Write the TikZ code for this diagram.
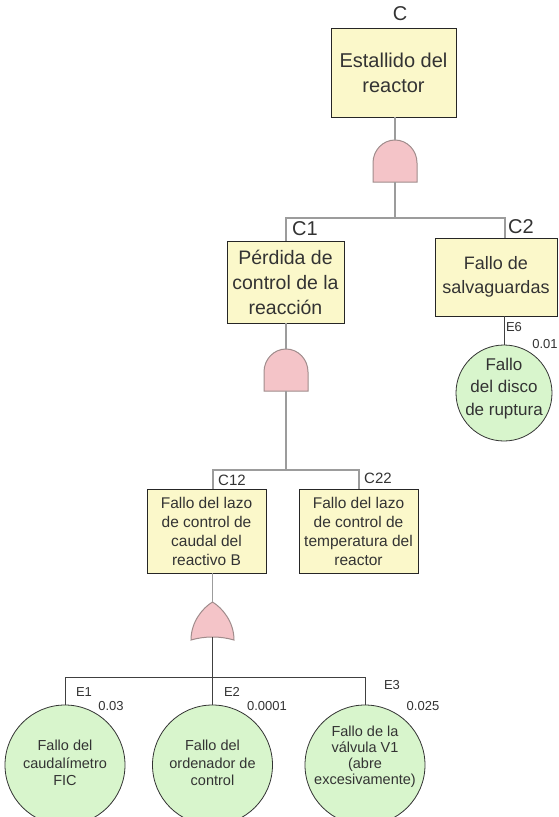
\documentclass[tikz,border=0pt]{standalone}
\usepackage{fontspec}
\setmainfont{Liberation Sans}
\definecolor{boxc}{HTML}{FBF8CA}
\definecolor{evc}{HTML}{D8F5CC}
\definecolor{gatec}{HTML}{F4C4C8}
\definecolor{gated}{HTML}{A08C8C}
\definecolor{connc}{HTML}{9C9C9C}
\definecolor{txtc}{HTML}{333333}
\newcommand\fsz[2]{\fontsize{#1}{#2}\selectfont}
\begin{document}
\begin{tikzpicture}[x=1pt,y=1pt,
  txt/.style={text=txtc, inner sep=0pt, align=center},
  lab/.style={text=txtc, inner sep=0pt},
  box/.style={draw=black!85, line width=0.8pt, fill=boxc, inner sep=0pt, align=center, text=txtc},
  evt/.style={circle, draw=black!80, line width=0.8pt, fill=evc, inner sep=0pt},
  conn/.style={draw=connc, line width=1.8pt},
  thinline/.style={draw=black!75, line width=0.9pt},
  gate/.style={fill=gatec, draw=gated, line width=1pt},
  pics/andgate/.style={code={
     \path[gate] (-22,0) -- (-22,19) arc[start angle=180,end angle=0,x radius=22pt,y radius=23pt] -- (22,0) -- cycle;
     \coordinate (-top) at (0,42); \coordinate (-bot) at (0,0);}},
  pics/orgate/.style={code={
     \path[gate] (-21.5,0) .. controls (-21.5,18) and (-10,32) .. (0,38) .. controls (10,32) and (21.5,18) .. (21.5,0) .. controls (8,4) and (-8,4) .. (-21.5,0) -- cycle;
     \coordinate (-top) at (0,38); \coordinate (-bot) at (0,3);}}
]
\fill[white] (0,0) rectangle (559,-817);
\useasboundingbox (0,0) rectangle (559,-817);

% boxes
\node[box, minimum width=125pt, minimum height=89pt, font=\fsz{20}{25}] (c) at (393.5,-72.5) {Estallido del\\reactor};
\node[box, minimum width=117pt, minimum height=82pt, font=\fsz{19.5}{25}] (c1) at (285.5,-282) {Pérdida de\\control de la\\reacción};
\node[box, minimum width=122pt, minimum height=78pt, font=\fsz{18}{24}] (c2) at (496,-277) {Fallo de\\salvaguardas};
\node[box, minimum width=119pt, minimum height=84pt, font=\fsz{15.5}{19}] (c12) at (206.5,-531) {Fallo del lazo\\de control de\\caudal del\\reactivo B};
\node[box, minimum width=119pt, minimum height=84pt, font=\fsz{15.5}{19}] (c22) at (358.5,-531) {Fallo del lazo\\de control de\\temperatura del\\reactor};

% basic events
\node[evt, minimum size=96pt] (e6) at (504,-393) {};
\node[evt, minimum size=120pt] (e1) at (65,-765) {};
\node[evt, minimum size=120pt] (e2) at (212.5,-765) {};
\node[evt, minimum size=120pt] (e3) at (365,-765) {};
\node[txt, font=\fsz{17}{22.5}] (e6t) at (504,-388.5) {Fallo\\del disco\\de ruptura};
\node[txt, font=\fsz{14.5}{17.5}] (e1t) at (65,-763) {Fallo del\\caudalímetro\\FIC};
\node[txt, font=\fsz{14.5}{17.5}] (e2t) at (212.5,-763) {Fallo del\\ordenador de\\control};
\node[txt, font=\fsz{14.5}{16}] (e3t) at (365,-756.5) {Fallo de la\\válvula V1\\(abre\\excesivamente)};

% gates
\pic (g1) at (395,-182) {andgate};
\pic (g2) at (286,-391) {andgate};
\pic (g3) at (212.5,-640) {orgate};

% connectors
\coordinate (b1l) at (286,-218);
\coordinate (b1r) at (505,-218);
\draw[conn] (g1-top |- c.south) -- (g1-top);
\draw[conn] (g1-bot) -- (g1-bot |- b1l);
\draw[conn] (b1l |- c1.north) -- (b1l) -- (b1r) -- (b1r |- c2.north);

\coordinate (b2l) at (213,-470);
\coordinate (b2r) at (359,-470);
\draw[conn] (g2-top |- c1.south) -- (g2-top);
\draw[conn] (g2-bot) -- (g2-bot |- b2l);
\draw[conn] (b2l |- c12.north) -- (b2l) -- (b2r) -- (b2r |- c22.north);

\coordinate (b3l) at (65,-677);
\coordinate (b3r) at (365,-677);
\draw[conn] (g3-top |- c12.south) -- (g3-top);
\draw[thinline] (g3-bot) -- (g3-bot |- b3l);
\draw[thinline] (e1.north) -- (b3l) -- (b3r) -- (e3.north);
\draw[thinline] (e2.north) -- (e2.north |- b3l);
\draw[thinline] (e6.north |- c2.south) -- (e6.north);

% labels
\node[lab, font=\fsz{20}{24}] (lc) at (400,-14) {C};
\node[lab, font=\fsz{20}{24}] (lc1) at (305,-229) {C1};
\node[lab, font=\fsz{20}{24}] (lc2) at (521,-227) {C2};
\node[lab, font=\fsz{15}{18}] (lc12) at (232,-480) {C12};
\node[lab, font=\fsz{15}{18}] (lc22) at (378,-478) {C22};
\node[lab, font=\fsz{13}{16}] (le6) at (514,-327) {E6};
\node[lab, font=\fsz{13}{16}] (p6) at (545,-344) {0.01};
\node[lab, font=\fsz{13}{16}] (le1) at (84,-692) {E1};
\node[lab, font=\fsz{13}{16}] (p1) at (111,-706) {0.03};
\node[lab, font=\fsz{13}{16}] (le2) at (232,-692) {E2};
\node[lab, font=\fsz{13}{16}] (p2) at (267,-706) {0.0001};
\node[lab, font=\fsz{13}{16}] (le3) at (392,-685) {E3};
\node[lab, font=\fsz{13}{16}] (p3) at (423,-706) {0.025};
\end{tikzpicture}
\end{document}
